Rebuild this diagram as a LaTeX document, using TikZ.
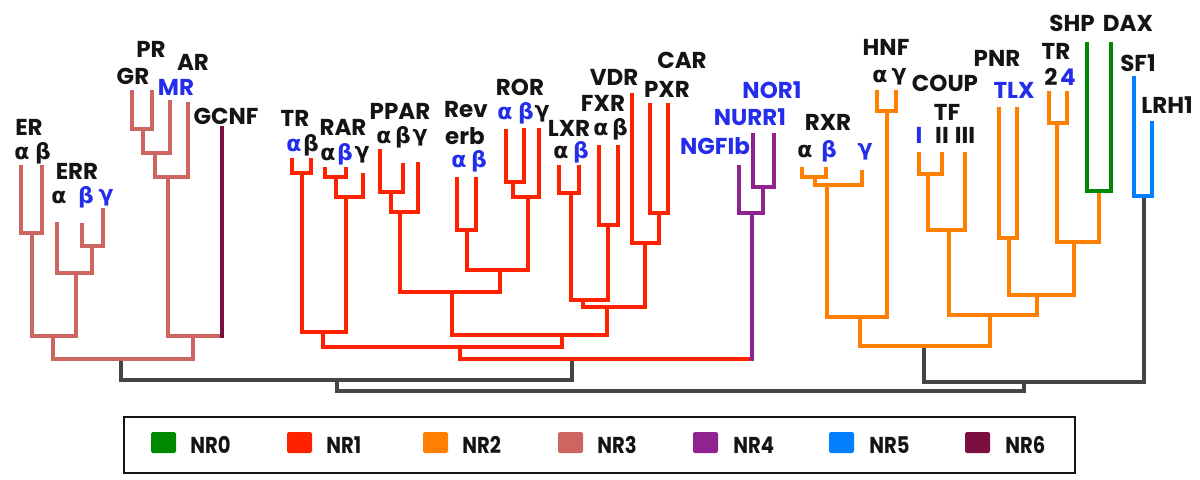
\documentclass[tikz,border=0pt]{standalone}
\usepackage{fontspec}
\setmainfont{Poppins}
\newfontfamily\gk{DejaVu Sans}[BoldFont={DejaVu Sans Bold}]
\newfontfamily\legf{Poppins}[FakeStretch=0.85]
\definecolor{nrzero}{RGB}{0,136,0}
\definecolor{nrone}{RGB}{255,34,0}
\definecolor{nrtwo}{RGB}{255,128,0}
\definecolor{nrthree}{RGB}{205,102,96}
\definecolor{nrfour}{RGB}{145,35,145}
\definecolor{nrfive}{RGB}{0,128,255}
\definecolor{nrsix}{RGB}{123,16,64}
\definecolor{gline}{RGB}{68,68,68}
\definecolor{lblue}{RGB}{35,45,235}
\definecolor{lblack}{RGB}{20,20,20}
\tikzset{
  br/.style={line width=2.25pt, line join=miter, line cap=butt},
  brx/.style={line width=2.25pt, line cap=rect},
  lab/.style={font=\fontsize{11.5}{11.5}\selectfont\bfseries, text=lblack, inner sep=0pt, anchor=center},
  blab/.style={lab, text=lblue},
  gl/.style={font=\fontsize{11}{11}\selectfont\gk\bfseries, text=lblack, inner sep=0pt, anchor=center},
  bgl/.style={gl, text=lblue},
  sq/.style={minimum width=12.5pt, minimum height=10.5pt, inner sep=0pt, rounded corners=0.8pt},
  leg/.style={font=\fontsize{11.5}{11.5}\selectfont\legf\bfseries, text=lblack, inner sep=0pt, anchor=west}
}
\begin{document}
\begin{tikzpicture}[x=0.5pt,y=-0.5pt]
\useasboundingbox (0,0) rectangle (1200,479);
% ---------- NR3 coordinates
\coordinate (ERa) at (21,165);
\coordinate (ERb) at (42,165);
\coordinate (nER) at (32,233);
\coordinate (ERRa) at (57,222);
\coordinate (ERRb) at (82,223);
\coordinate (ERRg) at (103,208);
\coordinate (nERRbg) at (92,246);
\coordinate (nERR) at (76,273);
\coordinate (nEE) at (53,336);
\coordinate (GR) at (132,90);
\coordinate (PR) at (152,90);
\coordinate (nGP) at (143,129);
\coordinate (MR) at (170,100);
\coordinate (nGPM) at (155,153);
\coordinate (AR) at (188,102);
\coordinate (nSR) at (168,177);
\coordinate (GCNF) at (222,128);
\coordinate (nSG) at (193,336);
\coordinate (nNR3) at (121,359);
% ---------- NR1 coordinates
\coordinate (TRa) at (292,158);
\coordinate (TRb) at (311,158);
\coordinate (nTR) at (302,173);
\coordinate (RARa) at (325,167);
\coordinate (RARb) at (346,167);
\coordinate (nRARab) at (336,177);
\coordinate (RARg) at (363,173);
\coordinate (nRAR) at (346,197);
\coordinate (nTRRAR) at (323,332);
\coordinate (PPARa) at (380,149);
\coordinate (PPARb) at (403,163);
\coordinate (nPPab) at (391,192);
\coordinate (PPARg) at (418,162);
\coordinate (nPPAR) at (400,212);
\coordinate (Reva) at (457,177);
\coordinate (Revb) at (476,177);
\coordinate (nRev) at (467,230);
\coordinate (RORa) at (506,129);
\coordinate (RORb) at (524,128);
\coordinate (RORg) at (539,128);
\coordinate (nRORab) at (513,182);
\coordinate (nROR) at (528,197);
\coordinate (nRevROR) at (500,270);
\coordinate (nPR) at (452,292);
\coordinate (LXRa) at (559,165);
\coordinate (LXRb) at (579,165);
\coordinate (nLXR) at (571,193);
\coordinate (FXRa) at (599,145);
\coordinate (FXRb) at (618,145);
\coordinate (nFXR) at (608,225);
\coordinate (nLF) at (583,300);
\coordinate (VDR) at (632,93);
\coordinate (PXRl) at (650,103);
\coordinate (CARl) at (668,103);
\coordinate (nCP) at (659,213);
\coordinate (nVCP) at (645,243);
\coordinate (nLFV) at (607,307);
\coordinate (nMid) at (562,335);
\coordinate (nNR1) at (460,347);
\coordinate (nNR14) at (572,359);
% ---------- NR4
\coordinate (NGFIb) at (739,165);
\coordinate (NURR1) at (753,133);
\coordinate (NOR1) at (774,133);
\coordinate (nNN) at (763,187);
\coordinate (nNR4) at (752,213);
% ---------- NR2
\coordinate (RXRa) at (802,167);
\coordinate (RXRb) at (826,167);
\coordinate (nRXRab) at (815,177);
\coordinate (RXRg) at (862,170);
\coordinate (nRXR) at (827,185);
\coordinate (HNFa) at (877,90);
\coordinate (HNFg) at (896,90);
\coordinate (nHNF) at (887,111);
\coordinate (nRH) at (860,317);
\coordinate (CI) at (919,152);
\coordinate (CII) at (942,152);
\coordinate (nCI) at (928,174);
\coordinate (CIII) at (965,152);
\coordinate (nCOUP) at (949,230);
\coordinate (PNR) at (999,107);
\coordinate (TLX) at (1017,107);
\coordinate (nPT) at (1009,238);
\coordinate (TRtwo) at (1049,91);
\coordinate (TRfour) at (1067,91);
\coordinate (nTRtf) at (1057,123);
\coordinate (SHP) at (1087,42);
\coordinate (DAX) at (1111,42);
\coordinate (nSD) at (1099,191);
\coordinate (nTSD) at (1074,242);
\coordinate (nPTSD) at (1037,295);
\coordinate (nCPTS) at (990,315);
\coordinate (nNR2) at (924,346);
% ---------- NR5
\coordinate (SF1) at (1134,76);
\coordinate (LRH1) at (1152,121);
\coordinate (nNR5) at (1144,196);
% ---------- grey backbone
\coordinate (nNR25) at (1024,382);
\coordinate (nA) at (337,380);
\coordinate (root) at (681,391);

% ---------- grey
\draw[br, gline] (nA) -| (nNR3);
\draw[br, gline] (nA) -| (nNR14);
\draw[br, gline] (nNR25) -| (nNR2);
\draw[br, gline] (nNR25) -| (nNR5);
\draw[br, gline] (root) -| (nA);
\draw[br, gline] (root) -| (nNR25);

% ---------- NR2 orange
\draw[br, nrtwo] (nRXRab) -| (RXRa);
\draw[br, nrtwo] (nRXRab) -| (RXRb);
\draw[br, nrtwo] (nRXR) -| (nRXRab);
\draw[br, nrtwo] (nRXR) -| (RXRg);
\draw[br, nrtwo] (nHNF) -| (HNFa);
\draw[br, nrtwo] (nHNF) -| (HNFg);
\draw[br, nrtwo] (nRH) -| (nRXR);
\draw[br, nrtwo] (nRH) -| (nHNF);
\draw[br, nrtwo] (nCI) -| (CI);
\draw[br, nrtwo] (nCI) -| (CII);
\draw[br, nrtwo] (nCOUP) -| (nCI);
\draw[br, nrtwo] (nCOUP) -| (CIII);
\draw[br, nrtwo] (nPT) -| (PNR);
\draw[br, nrtwo] (nPT) -| (TLX);
\draw[br, nrtwo] (nTRtf) -| (TRtwo);
\draw[br, nrtwo] (nTRtf) -| (TRfour);
\draw[br, nrtwo] (nTSD) -| (nTRtf);
\draw[br, nrtwo] (nTSD) -| (nSD);
\draw[br, nrtwo] (nPTSD) -| (nPT);
\draw[br, nrtwo] (nPTSD) -| (nTSD);
\draw[br, nrtwo] (nCPTS) -| (nCOUP);
\draw[br, nrtwo] (nCPTS) -| (nPTSD);
\draw[br, nrtwo] (nNR2) -| (nRH);
\draw[br, nrtwo] (nNR2) -| (nCPTS);

% ---------- NR1 red
\draw[br, nrone] (nTR) -| (TRa);
\draw[br, nrone] (nTR) -| (TRb);
\draw[br, nrone] (nRARab) -| (RARa);
\draw[br, nrone] (nRARab) -| (RARb);
\draw[br, nrone] (nRAR) -| (nRARab);
\draw[br, nrone] (nRAR) -| (RARg);
\draw[br, nrone] (nTRRAR) -| (nTR);
\draw[br, nrone] (nTRRAR) -| (nRAR);
\draw[br, nrone] (nPPab) -| (PPARa);
\draw[br, nrone] (nPPab) -| (PPARb);
\draw[br, nrone] (nPPAR) -| (nPPab);
\draw[br, nrone] (nPPAR) -| (PPARg);
\draw[br, nrone] (nRev) -| (Reva);
\draw[br, nrone] (nRev) -| (Revb);
\draw[br, nrone] (nRORab) -| (RORa);
\draw[br, nrone] (nRORab) -| (RORb);
\draw[br, nrone] (nROR) -| (nRORab);
\draw[br, nrone] (nROR) -| (RORg);
\draw[br, nrone] (nRevROR) -| (nRev);
\draw[br, nrone] (nRevROR) -| (nROR);
\draw[br, nrone] (nPR) -| (nPPAR);
\draw[br, nrone] (nPR) -| (nRevROR);
\draw[br, nrone] (nLXR) -| (LXRa);
\draw[br, nrone] (nLXR) -| (LXRb);
\draw[br, nrone] (nFXR) -| (FXRa);
\draw[br, nrone] (nFXR) -| (FXRb);
\draw[br, nrone] (nLF) -| (nLXR);
\draw[br, nrone] (nLF) -| (nFXR);
\draw[br, nrone] (nCP) -| (PXRl);
\draw[br, nrone] (nCP) -| (CARl);
\draw[br, nrone] (nVCP) -| (VDR);
\draw[br, nrone] (nVCP) -| (nCP);
\draw[br, nrone] (nLFV) -| (nLF);
\draw[br, nrone] (nLFV) -| (nVCP);
\draw[br, nrone] (nMid) -| (nPR);
\draw[br, nrone] (nMid) -| (nLFV);
\draw[br, nrone] (nNR1) -| (nTRRAR);
\draw[br, nrone] (nNR1) -| (nMid);
\draw[br, nrone] (nNR14) -| (nNR1);
\draw[br, nrone] (nNR14) -- (nNR14 -| nNR4);

% ---------- NR3 salmon
\draw[br, nrthree] (nER) -| (ERa);
\draw[br, nrthree] (nER) -| (ERb);
\draw[br, nrthree] (nERRbg) -| (ERRb);
\draw[br, nrthree] (nERRbg) -| (ERRg);
\draw[br, nrthree] (nERR) -| (ERRa);
\draw[br, nrthree] (nERR) -| (nERRbg);
\draw[br, nrthree] (nEE) -| (nER);
\draw[br, nrthree] (nEE) -| (nERR);
\draw[br, nrthree] (nGP) -| (GR);
\draw[br, nrthree] (nGP) -| (PR);
\draw[br, nrthree] (nGPM) -| (nGP);
\draw[br, nrthree] (nGPM) -| (MR);
\draw[br, nrthree] (nSR) -| (nGPM);
\draw[br, nrthree] (nSR) -| (AR);
\draw[br, nrthree] (nSG) -| (nSR);
\draw[br, nrthree] (nSG) -- (nSG -| GCNF);
\draw[br, nrthree] (nNR3) -| (nEE);
\draw[br, nrthree] (nNR3) -| (nSG);

% ---------- NR0 green
\draw[br, nrzero] (nSD) -| (SHP);
\draw[br, nrzero] (nSD) -| (DAX);
% ---------- NR4 purple
\draw[brx, nrfour] (nNR14 -| nNR4) -- (nNR4);
\draw[br, nrfour] (nNN) -| (NURR1);
\draw[br, nrfour] (nNN) -| (NOR1);
\draw[br, nrfour] (nNR4) -| (NGFIb);
\draw[br, nrfour] (nNR4) -| (nNN);
% ---------- NR5 blue
\draw[br, nrfive] (nNR5) -| (SF1);
\draw[br, nrfive] (nNR5) -| (LRH1);
% ---------- NR6 maroon
\draw[brx, nrsix] (nSG -| GCNF) -- (GCNF);

% ---------- labels NR3
\node[lab] (tER) at (29,127) {ER};
\node[gl] (tERa) at (22,153) {α};
\node[gl] (tERb) at (43,153) {β};
\node[lab] (tERR) at (77,171) {ERR};
\node[gl] (tERRa) at (59,197) {α};
\node[bgl] (tERRb) at (86,197) {β};
\node[bgl] (tERRg) at (106,198) {γ};
\node[lab] (tPR) at (151,49) {PR};
\node[lab] (tGR) at (133,76) {GR};
\node[lab] (tAR) at (193,62) {AR};
\node[blab] (tMR) at (176,87) {MR};
\node[lab] (tGCNF) at (226,116) {GCNF};
% ---------- labels NR1
\node[lab] (tTR) at (295,118) {TR};
\node[bgl] (tTRa) at (294,145) {α};
\node[gl] (tTRb) at (311,145) {β};
\node[lab] (tRAR) at (343,127) {RAR};
\node[gl] (tRARa) at (328,154) {α};
\node[bgl] (tRARb) at (345,154) {β};
\node[gl] (tRARg) at (362,155) {γ};
\node[lab] (tPPAR) at (400,111) {PPAR};
\node[gl] (tPPa) at (384,137) {α};
\node[gl] (tPPb) at (403,137) {β};
\node[gl] (tPPg) at (420,138) {γ};
\node[lab] (tRev) at (466,110) {Rev};
\node[lab] (terb) at (465,136) {erb};
\node[bgl] (tReva) at (459,161) {α};
\node[bgl] (tRevb) at (479,161) {β};
\node[lab] (tROR) at (520,87) {ROR};
\node[bgl] (tRORa) at (505,113) {α};
\node[bgl] (tRORb) at (526,113) {β};
\node[gl] (tRORg) at (542,114) {γ};
\node[lab] (tLXR) at (569,128) {LXR};
\node[gl] (tLXRa) at (561,152) {α};
\node[bgl] (tLXRb) at (581,152) {β};
\node[lab] (tFXR) at (603,103) {FXR};
\node[gl] (tFXRa) at (601,129) {α};
\node[gl] (tFXRb) at (620,129) {β};
\node[lab] (tVDR) at (614,77) {VDR};
\node[lab] (tCAR) at (682,60) {CAR};
\node[lab] (tPXR) at (667,89) {PXR};
% ---------- labels NR4
\node[blab] (tNOR1) at (772,90) {NOR1};
\node[blab] (tNURR1) at (750,117) {NURR1};
\node[blab] (tNGFIb) at (715,146) {NGFIb};
% ---------- labels NR2
\node[lab] (tRXR) at (828,122) {RXR};
\node[gl] (tRXRa) at (805,151) {α};
\node[bgl] (tRXRb) at (829,151) {β};
\node[bgl] (tRXRg) at (865,152) {γ};
\node[lab] (tHNF) at (886,47) {HNF};
\node[gl] (tHNFa) at (880,76) {α};
\node[gl] (tHNFg) at (899,77) {γ};
\node[lab] (tCOUP) at (945,83) {COUP};
\node[lab] (tTF) at (947,112) {TF};
\node[blab] (tI) at (919,135) {I};
\node[lab] (tII) at (942,135) {II};
\node[lab] (tIII) at (965,135) {III};
\node[lab] (tPNR) at (997,58) {PNR};
\node[blab] (tTLX) at (1014,90) {TLX};
\node[lab] (tTRb2) at (1056,51) {TR};
\node[lab] (tTwo) at (1051,77) {2};
\node[blab] (tFour) at (1068,77) {4};
\node[lab] (tSHP) at (1072,23) {SHP};
\node[lab] (tDAX) at (1128,23) {DAX};
\node[lab] (tSF1) at (1138,63) {SF1};
\node[lab] (tLRH1) at (1167,105) {LRH1};

% ---------- legend
\draw[line width=1pt, draw=lblack] (124,417) rectangle (1075,473);
\node[sq, fill=nrzero]  (s0) at (163.5,442.5) {};
\node[sq, fill=nrone]   (s1) at (299.5,442.5) {};
\node[sq, fill=nrtwo]   (s2) at (435.5,442.5) {};
\node[sq, fill=nrthree] (s3) at (570.5,442.5) {};
\node[sq, fill=nrfour]  (s4) at (705.5,442.5) {};
\node[sq, fill=nrfive]  (s5) at (841.5,442.5) {};
\node[sq, fill=nrsix]   (s6) at (977.5,442.5) {};
\node[leg] (l0) at (190,445) {NR0};
\node[leg] (l1) at (326,445) {NR1};
\node[leg] (l2) at (462,445) {NR2};
\node[leg] (l3) at (597,445) {NR3};
\node[leg] (l4) at (733,445) {NR4};
\node[leg] (l5) at (869,445) {NR5};
\node[leg] (l6) at (1005,445) {NR6};
\end{tikzpicture}
\end{document}
